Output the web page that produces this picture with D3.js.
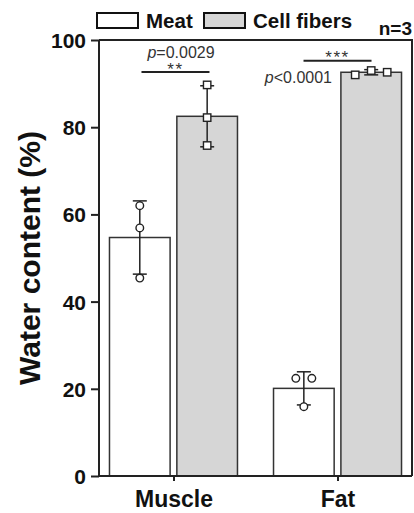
<!DOCTYPE html>
<html>
<head>
<meta charset="utf-8">
<script src="https://cdn.jsdelivr.net/npm/d3@7"></script>
<style>
  body { margin: 0; background: #fff; }
  text { font-family: "Liberation Sans", Arial, sans-serif; }
</style>
</head>
<body>
<svg width="414" height="513"></svg>
<script>
// data
var tissues = ["Muscle", "Fat"];
var groups = ["Meat", "Cell fibers"];
var meatMean = [54.7, 20.1];
var meatSd = [8.4, 3.8];
var cellMean = [82.5, 92.6];
var cellSd = [7.0, 0.6];
var meatPoints = [[62.0, 56.9, 45.4], [22.4, 22.4, 15.9]];
var cellPoints = [[89.7, 82.2, 75.8], [92.0, 93.0, 92.6]];
var meatJitter = [[0, 0, 0], [-8, 8, 0]];
var cellJitter = [[0, 0, 0], [-16, 0, 16]];
var yTicks = [0, 20, 40, 60, 80, 100];
var pLabels = ["0.0029", "<0.0001"];
var stars = ["**", "***"];

var svg = d3.select("svg"),
    pLeft = 99, pRight = 412, pTop = 40, pBottom = 476;

var ink = "#222";

var y = d3.scaleLinear().domain([0, 100]).range([pBottom, pTop]);
var x = d3.scalePoint().domain(tissues).range([pLeft, pRight]).padding(0.454);
var xs = d3.scaleBand().domain(groups).range([-64, 64]).paddingInner(0.1);

var rows = [];
tissues.forEach(function(t, i) {
  rows.push({t: t, g: "Meat", mean: meatMean[i], sd: meatSd[i], pts: meatPoints[i], jit: meatJitter[i]});
  rows.push({t: t, g: "Cell fibers", mean: cellMean[i], sd: cellSd[i], pts: cellPoints[i], jit: cellJitter[i]});
});
function cx(d) { return x(d.t) + xs(d.g) + xs.bandwidth() / 2; }

// bars
svg.selectAll(".bar").data(rows).enter().append("rect")
    .attr("x", function(d) { return x(d.t) + xs(d.g); })
    .attr("y", function(d) { return y(d.mean); })
    .attr("width", xs.bandwidth())
    .attr("height", function(d) { return y(0) - y(d.mean); })
    .attr("fill", function(d) { return d.g == "Meat" ? "#fff" : "#d6d6d6"; })
    .attr("stroke", "#333")
    .attr("stroke-width", 1.5);

// error bars
var eb = svg.selectAll(".err").data(rows).enter().append("g");
eb.append("line")
    .attr("x1", cx).attr("x2", cx)
    .attr("y1", function(d) { return y(d.mean + d.sd); })
    .attr("y2", function(d) { return y(d.mean - d.sd); })
    .attr("stroke", ink).attr("stroke-width", 1.5);
eb.append("line")
    .attr("x1", function(d) { return cx(d) - 7; }).attr("x2", function(d) { return cx(d) + 7; })
    .attr("y1", function(d) { return y(d.mean + d.sd); })
    .attr("y2", function(d) { return y(d.mean + d.sd); })
    .attr("stroke", ink).attr("stroke-width", 1.5);
eb.append("line")
    .attr("x1", function(d) { return cx(d) - 7; }).attr("x2", function(d) { return cx(d) + 7; })
    .attr("y1", function(d) { return y(d.mean - d.sd); })
    .attr("y2", function(d) { return y(d.mean - d.sd); })
    .attr("stroke", ink).attr("stroke-width", 1.5);

// individual points
rows.forEach(function(d) {
  d.pts.forEach(function(v, k) {
    var px = cx(d) + d.jit[k], py = y(v);
    if (d.g == "Meat") {
      svg.append("circle").attr("cx", px).attr("cy", py).attr("r", 3.8)
          .attr("fill", "#fff").attr("stroke", ink).attr("stroke-width", 1.4);
    } else {
      svg.append("rect").attr("x", px - 3.7).attr("y", py - 3.7)
          .attr("width", 7.4).attr("height", 7.4)
          .attr("fill", "#fff").attr("stroke", ink).attr("stroke-width", 1.4);
    }
  });
});

// axes
var yAxis = svg.append("g")
    .attr("transform", "translate(" + pLeft + ",0)")
    .call(d3.axisLeft(y).tickValues(yTicks).tickSize(8).tickPadding(5));
var xAxis = svg.append("g")
    .attr("transform", "translate(0," + pBottom + ")")
    .call(d3.axisBottom(x).tickSize(5).tickPadding(10));
[yAxis, xAxis].forEach(function(a) {
  a.select(".domain").attr("stroke", ink).attr("stroke-width", 2);
  a.selectAll(".tick line").attr("stroke", ink).attr("stroke-width", 2);
  a.selectAll("text").attr("fill", "#111").style("font-weight", "bold")
      .style("font-family", "'Liberation Sans', Arial, sans-serif");
});
yAxis.selectAll("text").style("font-size", "21px").attr("dy", "0.36em");
xAxis.selectAll("text").style("font-size", "23px");
yAxis.select(".domain").attr("d", "M0," + pBottom + "V" + pTop);
xAxis.select(".domain").attr("d", "M" + pLeft + ",0H" + pRight);

// top and right frame
svg.append("path")
    .attr("d", "M" + pLeft + "," + pTop + "H" + pRight + "V" + pBottom)
    .attr("fill", "none").attr("stroke", ink).attr("stroke-width", 2);

// y title
svg.append("text")
    .attr("transform", "translate(40," + ((pTop + pBottom) / 2) + ") rotate(-90)")
    .attr("text-anchor", "middle")
    .style("font-size", "30px").style("font-weight", "bold")
    .attr("fill", "#111")
    .text("Water content (%)");

// significance
var sig = [
  {i: 0, ly: 72, half: 34, starY: 74.5, pX: 181, pY: 57.5, anchor: "middle"},
  {i: 1, ly: 60.7, half: 34, starY: 63, pX: 332, pY: 83, anchor: "end"}
];
sig.forEach(function(s) {
  var c = x(tissues[s.i]) + (s.i == 0 ? 2 : 0);
  svg.append("text").attr("x", c).attr("y", s.starY).attr("text-anchor", "middle")
      .style("font-size", "17px").style("letter-spacing", "1.5px").attr("fill", "#333").text(stars[s.i]);
  svg.append("line").attr("x1", c - s.half).attr("x2", c + s.half)
      .attr("y1", s.ly).attr("y2", s.ly).attr("stroke", ink).attr("stroke-width", 2);
  var t = svg.append("text").attr("x", s.pX).attr("y", s.pY).attr("text-anchor", s.anchor)
      .style("font-size", "16px").attr("fill", "#333");
  t.append("tspan").style("font-style", "italic").text("p");
  t.append("tspan").text((pLabels[s.i][0] == "<" ? "" : "=") + pLabels[s.i]);
});

// legend
var lg = [{g: "Meat", rx: 97, tx: 146, fill: "#fff"}, {g: "Cell fibers", rx: 204, tx: 253, fill: "#d6d6d6"}];
lg.forEach(function(l) {
  svg.append("rect").attr("x", l.rx).attr("y", 13).attr("width", 41).attr("height", 15)
      .attr("fill", l.fill).attr("stroke", "#111").attr("stroke-width", 2);
  svg.append("text").attr("x", l.tx).attr("y", 28)
      .style("font-size", "20.5px").style("font-weight", "bold").attr("fill", "#111").text(l.g);
});
svg.append("text").attr("x", 412).attr("y", 35).attr("text-anchor", "end")
    .style("font-size", "19px").style("font-weight", "bold").attr("fill", "#111").text("n=3");
</script>
</body>
</html>
